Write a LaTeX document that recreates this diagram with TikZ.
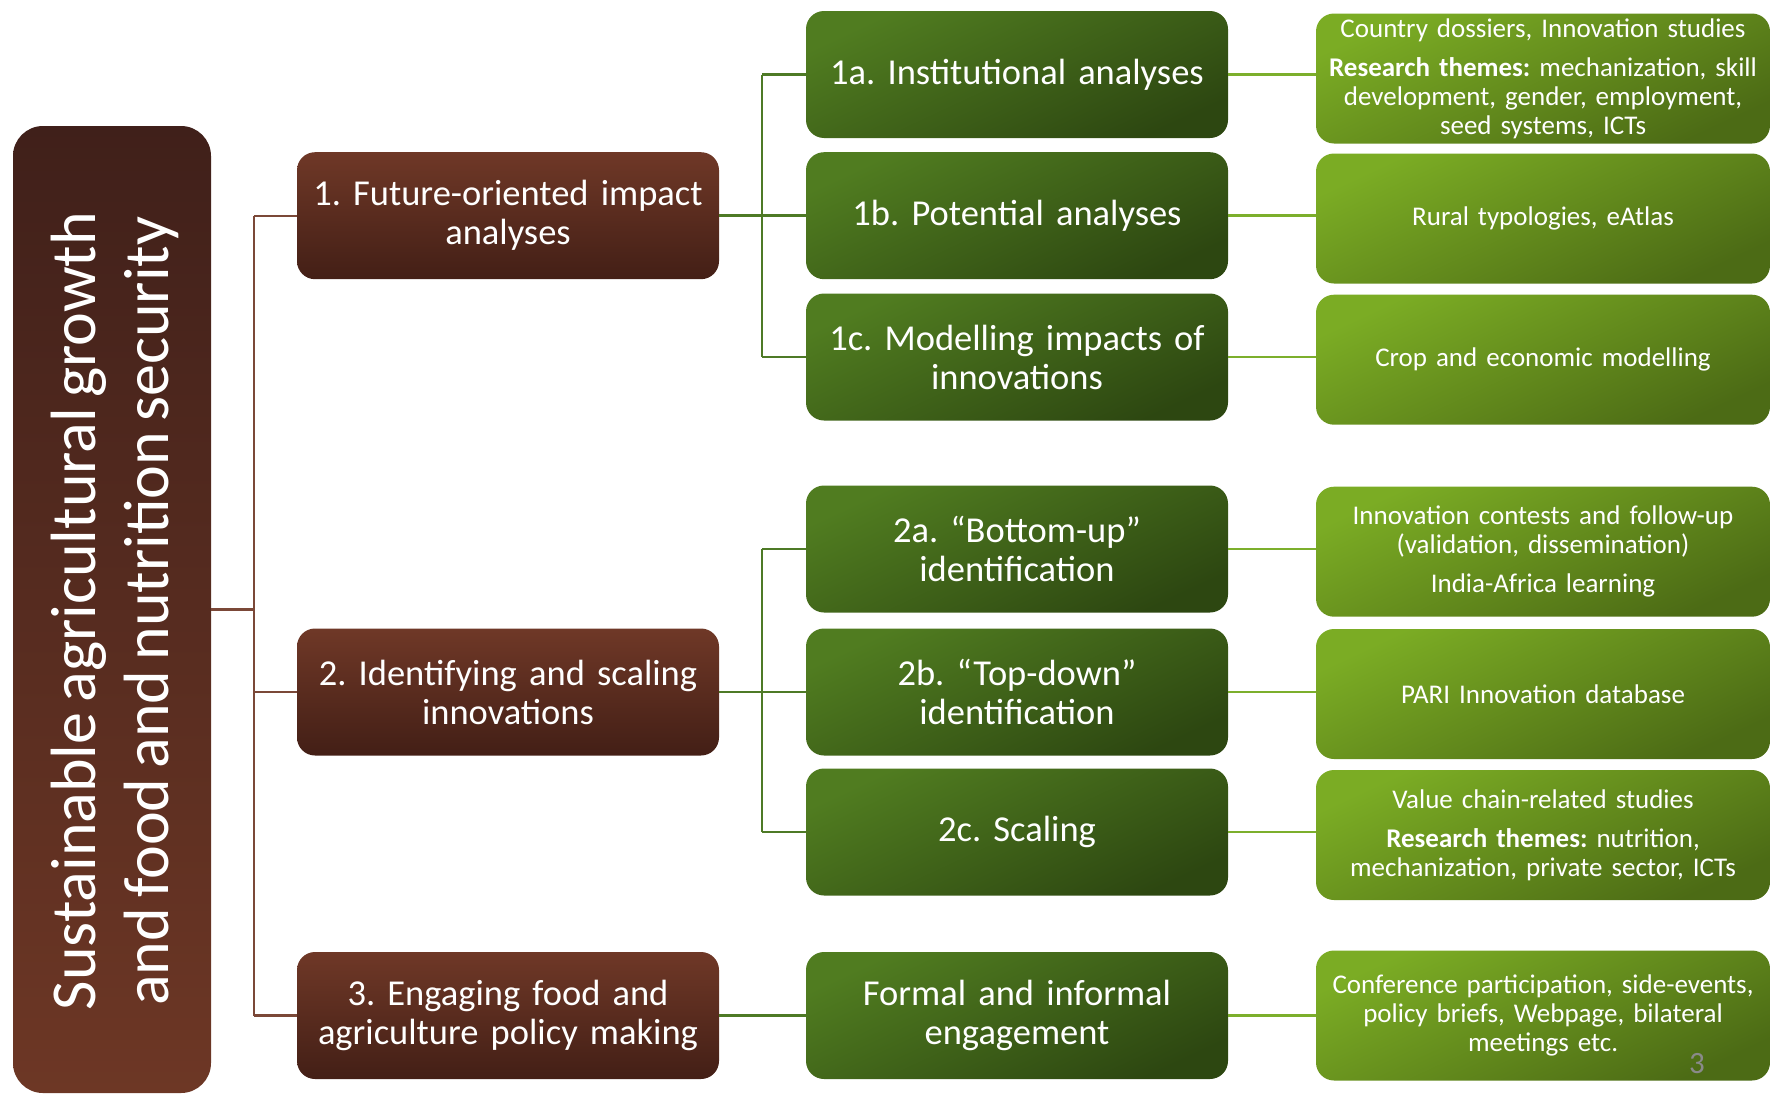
\documentclass[tikz,border=0pt]{standalone}
\usepackage{fontspec}
\setmainfont{Carlito}[WordSpace=0.7]
\definecolor{brTop}{HTML}{6F3827}
\definecolor{brBot}{HTML}{431F16}
\definecolor{lTop}{HTML}{40201A}
\definecolor{lBot}{HTML}{6D3725}
\definecolor{gTop}{HTML}{507C20}
\definecolor{gBot}{HTML}{2D4711}
\definecolor{rTop}{HTML}{7BAC24}
\definecolor{rBot}{HTML}{4C6B15}
\definecolor{brLine}{HTML}{7B4838}
\definecolor{gLine}{HTML}{4E7A26}
\definecolor{rLine}{HTML}{7CAF2C}
\definecolor{pgGrey}{HTML}{8A8A8A}
\begin{document}
\frenchspacing
\begin{tikzpicture}[x=1pt,y=-1pt,
  box/.style={rectangle, rounded corners=18pt, inner sep=0pt, align=center, text=white},
  lvl/.style={box, minimum width=422pt, minimum height=127pt, text width=410pt,
    top color=brTop, bottom color=brBot, font=\fontsize{36.5}{39}\selectfont},
  mid/.style={box, minimum width=422pt, minimum height=127pt, text width=410pt,
    top color=gTop, bottom color=gBot, shading angle=25, font=\fontsize{36.5}{39}\selectfont},
  res/.style={box, minimum width=454pt, minimum height=130pt, text width=440pt,
    top color=rTop, bottom color=rBot, shading angle=25, font=\fontsize{27}{29}\selectfont},
  bline/.style={draw=brLine, line width=2.2pt},
  gline/.style={draw=gLine, line width=2.6pt},
  rline/.style={draw=rLine, line width=2.6pt}
]
\useasboundingbox (0,0) rectangle (1771,1095);

% root box
\node[box, rounded corners=30pt, minimum width=198pt, minimum height=967pt,
  top color=lTop, bottom color=lBot] (L) at (112,609.5) {};
\node[text=white, rotate=90, align=center, font=\fontsize{64}{73}\selectfont] (Ltext) at (115,611)
  {Sustainable agricultural growth\\ and food and nutrition security};

% level 1
\node[lvl] (A1) at (508,215.7) {1. Future-oriented impact\\ analyses};
\node[lvl] (A2) at (508,692) {2. Identifying and scaling\\ innovations};
\node[lvl] (A3) at (508,1015.5) {3. Engaging food and\\ agriculture policy making};

% level 2
\node[mid] (B1) at (1017,74.5) {1a. Institutional analyses};
\node[mid] (B2) at (1017,215.7) {1b. Potential analyses};
\node[mid] (B3) at (1017,357) {1c. Modelling impacts of\\ innovations};
\node[mid] (B4) at (1017,549) {2a. “Bottom-up”\\ identification};
\node[mid] (B5) at (1017,692) {2b. “Top-down”\\ identification};
\node[mid] (B6) at (1017,832) {2c. Scaling};
\node[mid] (B7) at (1017,1015.5) {Formal and informal\\ engagement};

% level 3
\node[res] (C1) at (1543,78.5) {Country dossiers, Innovation studies\\[10pt]
  \textbf{Research themes:} mechanization, skill\\ development, gender, employment,\\ seed systems, ICTs};
\node[res] (C2) at (1543,218.5) {Rural typologies, eAtlas};
\node[res] (C3) at (1543,359.7) {Crop and economic modelling};
\node[res] (C4) at (1543,551.7) {Innovation contests and follow-up\\ (validation, dissemination)\\[10pt] India-Africa learning};
\node[res] (C5) at (1543,694) {PARI Innovation database};
\node[res] (C6) at (1543,835) {Value chain-related studies\\[10pt]
  \textbf{Research themes:} nutrition,\\ mechanization, private sector, ICTs};
\node[res] (C7) at (1543,1015.5) {Conference participation, side-events,\\ policy briefs, Webpage, bilateral\\ meetings etc.};

\node[text=pgGrey, font=\fontsize{31}{33}\selectfont] (pg) at (1697,1064) {3};

% brown connectors
\coordinate (tk) at (254,609.5);
\draw[bline] (L.east) -- (tk);
\draw[bline] (tk |- A1.west) -- (tk |- A3.west);
\draw[bline] (tk |- A1.west) -- (A1.west);
\draw[bline] (tk |- A2.west) -- (A2.west);
\draw[bline] (tk |- A3.west) -- (A3.west);

% green connectors level 1 -> 2
\coordinate (g1) at (762,215.7);
\draw[gline] (A1.east) -- (B2.west);
\draw[gline] (g1 |- B1.west) -- (g1 |- B3.west);
\draw[gline] (g1 |- B1.west) -- (B1.west);
\draw[gline] (g1 |- B3.west) -- (B3.west);
\coordinate (g2) at (762,692);
\draw[gline] (A2.east) -- (B5.west);
\draw[gline] (g2 |- B4.west) -- (g2 |- B6.west);
\draw[gline] (g2 |- B4.west) -- (B4.west);
\draw[gline] (g2 |- B6.west) -- (B6.west);
\draw[gline] (A3.east) -- (B7.west);

% level 2 -> 3
\draw[rline] (B1.east) -- (B1.east -| C1.west);
\draw[rline] (B2.east) -- (B2.east -| C2.west);
\draw[rline] (B3.east) -- (B3.east -| C3.west);
\draw[rline] (B4.east) -- (B4.east -| C4.west);
\draw[rline] (B5.east) -- (B5.east -| C5.west);
\draw[rline] (B6.east) -- (B6.east -| C6.west);
\draw[rline] (B7.east) -- (B7.east -| C7.west);
\end{tikzpicture}
\end{document}
